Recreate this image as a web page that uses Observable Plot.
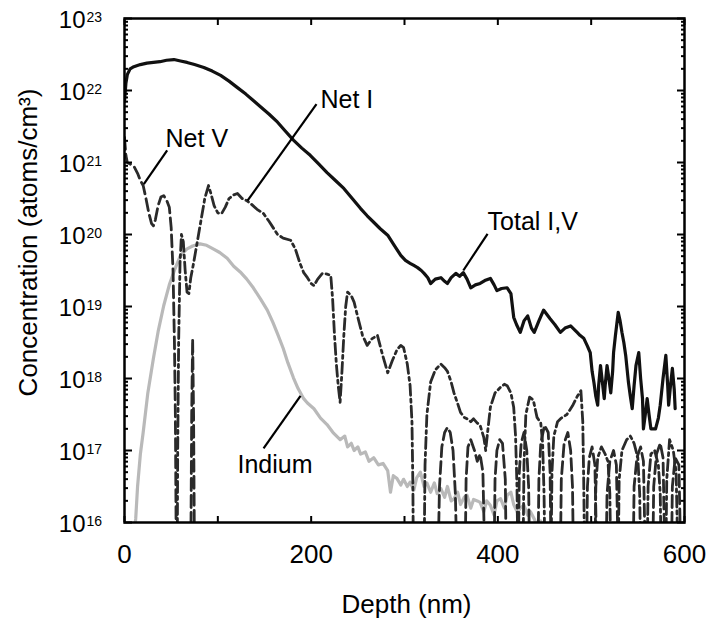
<!DOCTYPE html>
<html><head><meta charset="utf-8">
<script src="https://cdn.jsdelivr.net/npm/d3@7"></script>
<script src="https://cdn.jsdelivr.net/npm/@observablehq/plot@0.6"></script>
<style>
html,body{margin:0;padding:0;background:#fff;}
#chart{width:708px;height:621px;}
</style></head><body><div id="chart"></div>
<script>
// Values: [depth (nm), log10(concentration in atoms/cm3)]; null = gap
const totalIV = [[0,21.85],[1.5,22.1],[3,22.22],[6,22.3],[10,22.33],[17,22.36],[24,22.38],[31,22.39],[38,22.4],[45,22.42],[53,22.43],[60,22.41],[67,22.39],[75,22.36],[85,22.32],[94,22.27],[103,22.21],[112,22.13],[121,22.04],[130,21.95],[138,21.86],[146,21.77],[155,21.67],[164,21.56],[172,21.44],[181,21.31],[190,21.2],[199,21.1],[208,20.98],[217,20.86],[226,20.75],[235,20.64],[244,20.5],[253,20.36],[260,20.26],[267,20.17],[274,20.08],[282,19.99],[289,19.85],[296,19.71],[301,19.64],[306,19.6],[310,19.57],[314,19.54],[318,19.5],[321,19.46],[325,19.4],[328,19.32],[333,19.38],[339,19.4],[343,19.35],[346,19.32],[350,19.4],[355,19.46],[359,19.42],[363,19.47],[367,19.38],[371,19.26],[376,19.3],[381,19.32],[386,19.36],[392,19.39],[396,19.3],[399,19.22],[404,19.25],[410,19.26],[414,19.18],[417,18.85],[420,18.75],[424,18.64],[428,18.8],[432,18.87],[436,18.7],[439,18.64],[444,18.8],[449,18.95],[452,18.9],[456,18.83],[461,18.75],[467,18.64],[472,18.7],[478,18.73],[482,18.68],[485,18.64],[488,18.6],[492,18.56],[496,18.45],[499,18.36],[501,18.1],[503,17.94],[505,17.75],[507,17.63],[508,17.9],[510,18.18],[512,17.95],[514,17.72],[515,17.9],[517,18.18],[519,18.0],[521,17.8],[523,18.1],[524,18.36],[526,18.6],[529,18.92],[531,18.8],[533,18.64],[535,18.5],[537,18.32],[540,17.94],[542,17.75],[544,17.58],[546,17.9],[548,18.18],[551,18.36],[553,18.0],[555,17.72],[556,17.3],[558,17.5],[560,17.72],[562,17.5],[564,17.3],[567,17.3],[569,17.3],[572,17.45],[574,17.63],[577,18.0],[580,18.32],[582,17.9],[583,17.63],[585,17.9],[587,18.14],[589,17.85],[590,17.58]];

const indium = [[10,15.8],[12,16.05],[14,16.5],[17,16.95],[20,17.25],[25,17.8],[31,18.28],[36,18.65],[42,19.01],[48,19.3],[54,19.52],[60,19.71],[67,19.8],[73,19.84],[81,19.87],[88,19.85],[95,19.8],[102,19.75],[110,19.67],[117,19.56],[124,19.48],[131,19.38],[138,19.26],[146,19.1],[153,18.95],[159,18.78],[164,18.62],[170,18.42],[175,18.22],[181,18.01],[186,17.86],[192,17.72],[196,17.66],[203,17.58],[210,17.45],[217,17.36],[224,17.24],[231,17.15],[236,17.2],[239,17.05],[243,17.1],[246,17.0],[250,17.05],[253,16.95],[258,16.98],[262,16.85],[267,16.9],[272,16.8],[277,16.82],[282,16.72],[285,16.42],[288,16.65],[292,16.61],[296,16.52],[299,16.6],[303,16.5],[306,16.56],[310,16.45],[313,16.62],[317,16.7],[321,16.5],[324,16.55],[328,16.42],[332,16.55],[335,16.4],[339,16.47],[343,16.35],[346,16.5],[350,16.3],[353,16.33],[357,16.42],[360,16.25],[364,16.35],[367,16.38],[371,16.2],[374,16.32],[378,16.3],[381,16.28],[385,16.15],[388,16.3],[392,16.24],[396,16.1],[399,16.3],[403,16.33],[407,16.2],[410,16.38],[414,16.42],[417,16.25],[421,16.14],[424,16.2],[428,16.24],[432,16.1],[435,16.15],[439,16.05],[442,15.95],[446,16.02],[450,15.9]];

const netV = [[0,21.35],[1.5,21.1],[3,21.0],[6,20.98],[10,20.95],[14,20.85],[17,20.75],[20,20.68],[23,20.5],[26,20.3],[29,20.15],[31,20.12],[33,20.2],[36,20.4],[39,20.52],[42,20.54],[45,20.48],[48,20.38],[50,20.1],[52,19.5],[53.5,18.5],[54.5,17.5],[55,16.5],[55.5,15.5],[null,null],
[71,15.5],[72,17.5],[73,18.55],[74,17.5],[75,15.5],[null,null],
[336,15.5],[337.5,16.5],[340,17.05],[343,17.25],[346,17.32],[349,17.25],[352,17.0],[354.5,16.4],[356,15.5],[null,null],
[365,15.5],[366,16.6],[368,17.05],[371,17.15],[375,17.0],[378,16.85],[381,16.95],[384,16.7],[386,15.5],[null,null],
[396,15.5],[397,16.6],[399,17.0],[402,17.15],[405,17.1],[408,16.6],[409,15.5],[null,null],
[422,15.5],[423,16.7],[425,17.1],[428,17.25],[431,17.0],[433,16.5],[434,15.5],[null,null],
[443,15.5],[444,16.6],[446,17.1],[450,17.35],[454,17.25],[456,16.7],[457,15.5],[null,null],
[467,15.5],[468,16.6],[471,17.1],[475,17.25],[478,17.0],[480,16.5],[481,15.5],[null,null],
[495,15.5],[496,16.5],[498,16.9],[501,17.05],[504,16.8],[506,15.5],[null,null],
[516,15.5],[517,16.4],[520,16.85],[524,17.0],[527,16.8],[529,15.5],[null,null],
[545,15.5],[546,16.5],[549,16.9],[553,17.05],[556,16.85],[558,15.5],[null,null],
[566,15.5],[567,16.5],[570,16.95],[574,17.1],[577,16.9],[579,15.5],[null,null],
[586,15.5],[587,16.5],[590,16.9],[594,16.8],[596,15.5]];

const netI = [[56.5,15.5],[57,17],[58,18.5],[59.5,19.6],[61,20.0],[63,19.9],[65,19.5],[67,19.2],[69,19.18],[71,19.4],[74,19.6],[78,19.9],[82,20.2],[86,20.5],[90,20.68],[93,20.55],[96,20.4],[100,20.3],[104,20.29],[108,20.38],[112,20.5],[117,20.55],[121,20.57],[126,20.5],[131,20.47],[136,20.42],[142,20.35],[149,20.29],[155,20.18],[160,20.08],[164,20.0],[170,19.95],[178,19.92],[183,19.8],[188,19.6],[192,19.47],[196,19.4],[200,19.32],[203,19.29],[207,19.38],[212,19.46],[217,19.45],[221,19.43],[223,19.1],[225,18.6],[227,18.2],[229,17.9],[231,17.67],[233,18.1],[235,18.6],[237,19.0],[239,19.2],[243,19.15],[246,19.06],[250,18.85],[255,18.6],[260,18.46],[265,18.55],[271,18.6],[276,18.35],[282,18.08],[287,18.25],[292,18.4],[296,18.46],[299,18.43],[303,18.2],[306,17.9],[308,17.4],[309,16.5],[309.5,15.5],[null,null],
[321,15.5],[322,16.8],[324,17.5],[328,17.95],[333,18.12],[339,18.2],[343,18.15],[346,18.1],[350,17.95],[353,17.8],[357,17.65],[360,17.53],[364,17.46],[367,17.44],[371,17.4],[374,17.44],[378,17.38],[381,17.35],[385,17.18],[387,17.0],[389,17.25],[392,17.6],[397,17.8],[403,17.88],[407,17.92],[410,17.9],[414,17.8],[417,17.6],[419,17.2],[420.5,16.5],[421.5,15.5],[null,null],
[427,15.5],[428,16.8],[430,17.5],[434,17.74],[438,17.7],[442,17.46],[446,17.38],[448,17.1],[449.5,16.4],[450.5,15.5],[null,null],
[457,15.5],[458,16.7],[460,17.2],[464,17.4],[468,17.45],[474,17.5],[480,17.62],[485,17.75],[489,17.83],[491,17.4],[492,16.6],[493,15.5],[null,null],
[504,15.5],[505,16.5],[507,16.9],[511,17.05],[515,16.95],[518,16.85],[520,16.4],[521,15.5],[null,null],
[529,15.5],[530,16.6],[533,17.0],[538,17.15],[542,17.2],[546,17.1],[550,16.9],[552,16.4],[553,15.5],[null,null],
[560,15.5],[561,16.5],[564,16.95],[568,17.0],[572,16.8],[574,16.4],[575,15.5],[null,null],
[580,15.5],[581,16.6],[584,17.15],[588,17.0],[591,16.7],[593,15.5]];

// Annotations
const labelNames = ["Net V", "Net I", "Total I,V", "Indium"];
const labelDepth = [44, 210, 389, 121];
const labelExp = [21.21, 21.76, 20.06, 16.69];
const leaderStart = [[45.7,21.17],[205.7,21.81],[389,20.01],[188.6,17.76]];
const leaderEnd = [[20.7,20.70],[131.8,20.47],[363,19.5],[149,17.03]];

// Axes
const xTicksAll = [0, 100, 200, 300, 400, 500, 600];
const xTickLabels = [0, 200, 400, 600];
const yDecades = [16, 17, 18, 19, 20, 21, 22, 23];
const xTitle = "Depth (nm)";
const yTitle = "Concentration (atoms/cm³)";

const toRow = ([d, e]) => ({depth: d == null ? NaN : d, conc: e == null ? NaN : 10 ** e});
const yMajor = yDecades.map(e => 10 ** e);
const yMinor = [];
for (const e of yDecades.slice(0, -1)) for (let k = 2; k <= 9; k++) yMinor.push(k * 10 ** e);
const labels = labelNames.map((t, i) => ({t, depth: labelDepth[i], conc: 10 ** labelExp[i]}));
const leaders = leaderStart.map((s, i) => ({x1: s[0], y1: 10 ** s[1], x2: leaderEnd[i][0], y2: 10 ** leaderEnd[i][1]}));

const font = "'Liberation Sans', Arial, Helvetica, sans-serif";
const chart = Plot.plot({
  width: 708, height: 621,
  marginLeft: 124, marginRight: 24, marginTop: 18, marginBottom: 99,
  style: {fontFamily: font, background: "#fff", color: "#000"},
  x: {domain: [0, 600]},
  y: {type: "log", domain: [1e16, 1e23]},
  marks: [
    Plot.line(indium.map(toRow), {x: "depth", y: "conc", stroke: "#b9b9b9", strokeWidth: 3.2, clip: true}),
    Plot.line(netV.map(toRow), {x: "depth", y: "conc", stroke: "#2a2a2a", strokeWidth: 2.8, strokeDasharray: "12,5", clip: true}),
    Plot.line(netI.map(toRow), {x: "depth", y: "conc", stroke: "#2a2a2a", strokeWidth: 2.8, strokeDasharray: "11,4,3,4", clip: true}),
    Plot.line(totalIV.map(toRow), {x: "depth", y: "conc", stroke: "#111", strokeWidth: 3.2, clip: true}),
    Plot.link(leaders, {x1: "x1", y1: "y1", x2: "x2", y2: "y2", stroke: "#000", strokeWidth: 2.2}),
    Plot.text(labels, {x: "depth", y: "conc", text: "t", textAnchor: "start", lineAnchor: "bottom", fontSize: 25, fill: "#000"}),
    // axes: inward ticks on all sides
    Plot.axisX({anchor: "bottom", ticks: xTicksAll, tickSize: -6, tickFormat: () => "", label: null, strokeWidth: 2}),
    Plot.axisX({anchor: "top", ticks: xTicksAll, tickSize: -6, tickFormat: () => "", label: null, strokeWidth: 2}),
    Plot.axisX({anchor: "bottom", ticks: xTickLabels, tickSize: 0, tickPadding: 22, fontSize: 26, tickFormat: d => String(d), label: null}),
    Plot.axisY({anchor: "left", ticks: yMajor, tickSize: -8, tickFormat: () => "", label: null, strokeWidth: 2}),
    Plot.axisY({anchor: "left", ticks: yMinor, tickSize: -4, tickFormat: () => "", label: null, strokeWidth: 2}),
    Plot.axisY({anchor: "right", ticks: yMajor, tickSize: -8, tickFormat: () => "", label: null, strokeWidth: 2}),
    Plot.axisY({anchor: "right", ticks: yMinor, tickSize: -4, tickFormat: () => "", label: null, strokeWidth: 2}),
    Plot.axisY({anchor: "left", ticks: yMajor, tickSize: 0, tickPadding: 39, fontSize: 24, dy: 2, tickFormat: () => "10", label: null}),
    Plot.axisY({anchor: "left", ticks: yMajor, tickSize: 0, tickPadding: 38, fontSize: 14, dy: -1, textAnchor: "start", tickFormat: d => String(Math.round(Math.log10(d))), label: null}),
    Plot.frame({stroke: "#000", strokeWidth: 2.5}),
    Plot.text([xTitle], {frameAnchor: "bottom", text: d => d, fontSize: 26, textAnchor: "middle", lineAnchor: "bottom", dx: 2, dy: 90, fill: "#000"}),
    Plot.text([yTitle], {frameAnchor: "left", text: d => d, fontSize: 26, rotate: -90, textAnchor: "middle", lineAnchor: "bottom", dx: -88, dy: -28, fill: "#000"})
  ]
});
document.getElementById("chart").appendChild(chart);
</script></body></html>
